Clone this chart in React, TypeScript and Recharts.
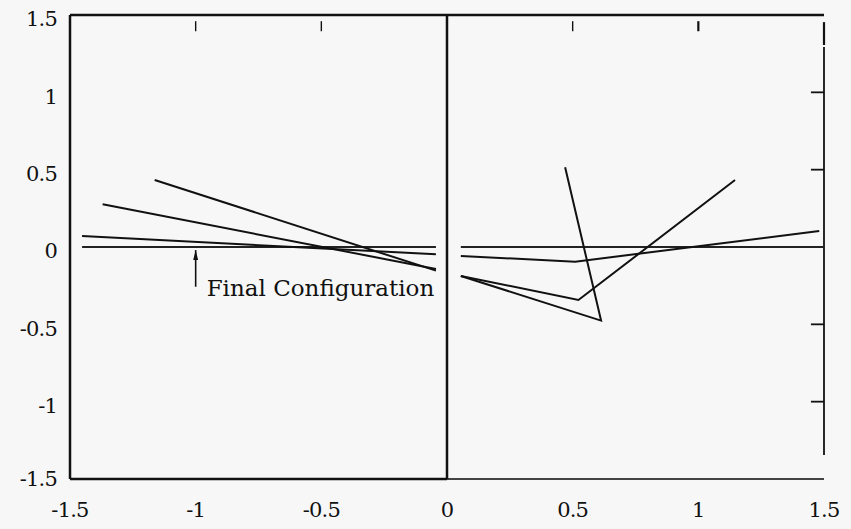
import React from 'react';
import { LineChart, Line, XAxis, YAxis, ReferenceLine } from 'recharts';

// tick values
const xTicks = [-1.5, -1, -0.5, 0, 0.5, 1, 1.5];
const yTicks = [-1.5, -1, -0.5, 0, 0.5, 1, 1.5];
const topTicks = [-1, -0.5, 0.5, 1];
const rightTicks = [1, 0.5, -0.5, -1];

// left half (x < 0)
const lineA = [
    { x: -1.163, y: 0.433 },
    { x: -0.044, y: -0.153 },
];
const lineB = [
    { x: -1.37, y: 0.276 },
    { x: -0.044, y: -0.142 },
];
const lineC = [
    { x: -1.452, y: 0.071 },
    { x: -0.044, y: -0.047 },
];
const finalLeft = [
    { x: -1.452, y: 0 },
    { x: -0.044, y: 0 },
];

// right half (x > 0)
const lineD = [
    { x: 0.055, y: -0.187 },
    { x: 0.613, y: -0.476 },
    { x: 0.47, y: 0.515 },
];
const lineE = [
    { x: 0.055, y: -0.187 },
    { x: 0.523, y: -0.343 },
    { x: 1.146, y: 0.433 },
];
const lineF = [
    { x: 0.055, y: -0.058 },
    { x: 0.51, y: -0.095 },
    { x: 1.481, y: 0.103 },
];
const finalRight = [
    { x: 0.055, y: 0 },
    { x: 1.5, y: 0 },
];

// annotation arrow
const arrow = [
    { x: -1, y: -0.257 },
    { x: -1, y: -0.02 },
];
const annotation = 'Final Configuration';

const ink = '#111';
const font = '"DejaVu Serif"';

const XTick = (props: any) => {
    const { x, y, payload } = props;
    return (
        <text x={x} y={y} dy="0.71em" textAnchor="middle" fill={ink} fontSize={21} letterSpacing={-0.8} fontFamily={font}>
            {payload.value}
        </text>
    );
};

const YTick = (props: any) => {
    const { x, y, payload } = props;
    const shift = payload.value === -1.5 ? 0 : 4;
    return (
        <text x={x} y={y + shift} dy="0.355em" textAnchor="end" fill={ink} fontSize={21} letterSpacing={-0.8} fontFamily={font}>
            {payload.value}
        </text>
    );
};

const ArrowDot = (props: any) => {
    const { cx, cy, index } = props;
    if (index === 0) {
        return (
            <text key="label" x={cx + 11} y={cy + 9} fill={ink} fontSize={23} fontFamily={font}>
                {annotation}
            </text>
        );
    }
    return <path key="head" d={`M${cx},${cy} L${cx - 2.5},${cy + 10} L${cx + 2.5},${cy + 10} Z`} fill={ink} />;
};

export default function App() {
    return (
        <div style={{ position: 'absolute', left: 0, top: 0, width: 851, height: 529, background: '#f7f7f7' }}>
            <LineChart width={851} height={529} margin={{ top: 15, right: 27, bottom: 0, left: 0 }}>
                <XAxis
                    type="number"
                    dataKey="x"
                    domain={[-1.5, 1.5]}
                    ticks={xTicks}
                    height={50}
                    axisLine={false}
                    tickLine={false}
                    tickSize={0}
                    tickMargin={23}
                    tick={<XTick />}
                    allowDataOverflow
                />
                <YAxis
                    type="number"
                    domain={[-1.5, 1.5]}
                    ticks={yTicks}
                    width={70}
                    axisLine={{ stroke: ink, strokeWidth: 2.5 }}
                    tickLine={false}
                    tickSize={0}
                    tickMargin={13}
                    tick={<YTick />}
                    allowDataOverflow
                />

                {/* frame */}
                <ReferenceLine segment={[{ x: -1.5, y: 1.5 }, { x: 1.5, y: 1.5 }]} stroke={ink} strokeWidth={2.5} ifOverflow="visible" />
                <ReferenceLine segment={[{ x: -1.5, y: -1.5 }, { x: 0, y: -1.5 }]} stroke={ink} strokeWidth={2.5} ifOverflow="visible" />
                <ReferenceLine segment={[{ x: 0, y: -1.5 }, { x: 1.5, y: -1.5 }]} stroke="#444" strokeWidth={1.8} ifOverflow="visible" />
                <ReferenceLine x={0} stroke={ink} strokeWidth={2.5} ifOverflow="visible" />
                <ReferenceLine segment={[{ x: 1.5, y: 1.293 }, { x: 1.5, y: -1.345 }]} stroke={ink} strokeWidth={1.8} ifOverflow="visible" />
                <ReferenceLine segment={[{ x: 1.5, y: 1.454 }, { x: 1.5, y: 1.306 }]} stroke={ink} strokeWidth={2.2} ifOverflow="visible" />
                {rightTicks.map((v) => (
                    <ReferenceLine key={`r${v}`} segment={[{ x: 1.448, y: v }, { x: 1.5, y: v }]} stroke={ink} strokeWidth={1.8} ifOverflow="visible" />
                ))}
                {topTicks.map((v) => (
                    <ReferenceLine key={`t${v}`} segment={[{ x: v, y: 1.46 }, { x: v, y: 1.395 }]} stroke={ink} strokeWidth={v === 1 ? 2.2 : 1.4} ifOverflow="visible" />
                ))}

                {/* final configuration */}
                <Line data={finalLeft} dataKey="y" stroke="#222" strokeWidth={2} dot={false} isAnimationActive={false} />
                <Line data={finalRight} dataKey="y" stroke="#222" strokeWidth={2} dot={false} isAnimationActive={false} />

                {/* intermediate configurations */}
                <Line data={lineA} dataKey="y" stroke={ink} strokeWidth={2} dot={false} isAnimationActive={false} />
                <Line data={lineB} dataKey="y" stroke={ink} strokeWidth={2} dot={false} isAnimationActive={false} />
                <Line data={lineC} dataKey="y" stroke={ink} strokeWidth={2} dot={false} isAnimationActive={false} />
                <Line data={lineD} dataKey="y" stroke={ink} strokeWidth={2} dot={false} isAnimationActive={false} />
                <Line data={lineE} dataKey="y" stroke={ink} strokeWidth={2} dot={false} isAnimationActive={false} />
                <Line data={lineF} dataKey="y" stroke={ink} strokeWidth={2} dot={false} isAnimationActive={false} />

                {/* annotation */}
                <Line data={arrow} dataKey="y" stroke={ink} strokeWidth={1.6} dot={<ArrowDot />} isAnimationActive={false} />
            </LineChart>
        </div>
    );
}
